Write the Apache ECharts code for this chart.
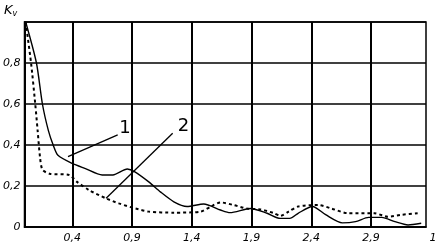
<!DOCTYPE html>
<html><head><meta charset="utf-8">
<script src="https://cdn.jsdelivr.net/npm/echarts@6/dist/echarts.min.js"></script>
<style>html,body{margin:0;padding:0;background:#fff}#c{width:440px;height:248px}</style>
</head><body><div id="c"></div>
<script>
// Curve 1 (solid)
const x1 = [0.01,0.1,0.15,0.2,0.24,0.28,0.4,0.51,0.65,0.74,0.86,0.92,1.04,1.14,1.25,1.36,1.5,1.64,1.72,1.89,2.03,2.14,2.22,2.29,2.41,2.52,2.66,2.77,2.88,2.99,3.1,3.21,3.32];
const y1 = [1.0,0.8,0.6,0.47,0.4,0.35,0.31,0.285,0.254,0.254,0.283,0.27,0.22,0.17,0.123,0.1,0.112,0.083,0.07,0.09,0.067,0.042,0.042,0.067,0.1,0.06,0.02,0.026,0.047,0.047,0.026,0.01,0.018];
// Curve 2 (dotted)
const x2 = [0.01,0.055,0.09,0.11,0.13,0.15,0.21,0.375,0.44,0.54,0.68,0.79,0.93,1.04,1.25,1.475,1.56,1.64,1.75,1.86,1.975,2.09,2.14,2.21,2.29,2.46,2.57,2.71,2.82,2.93,3.04,3.16,3.29];
const y2 = [1.0,0.8,0.6,0.47,0.34,0.28,0.26,0.254,0.22,0.18,0.14,0.115,0.09,0.075,0.07,0.075,0.1,0.12,0.107,0.09,0.086,0.067,0.054,0.075,0.1,0.107,0.09,0.067,0.067,0.067,0.05,0.06,0.067];
// Axis ticks
const xTicks = [0.4,0.9,1.4,1.9,2.4,2.9,3.36];
const xTickLabels = ['0,4','0,9','1,4','1,9','2,4','2,9','1'];
const xMax = 3.36;
const yTicks = [0,0.2,0.4,0.6,0.8,1.0];
const yTickLabels = ['0','0,2','0,4','0,6','0,8',''];
// Annotations (data coords)
const ann1 = {from:[0.364,0.343], to:[0.78,0.449], text:'1', at:[0.84,0.48]};
const ann2 = {from:[0.683,0.14], to:[1.24,0.457], text:'2', at:[1.33,0.49]};

const chart = echarts.init(document.getElementById('c'));
const font = "'DejaVu Sans', sans-serif";
const labelStyle = {color:'#000', fontStyle:'italic', fontSize:11, fontFamily:font};
chart.setOption({
  animation:false,
  grid:{left:23, right:14, top:22, bottom:21, show:true, borderColor:'#000', borderWidth:1.5},
  xAxis:{type:'value', min:0, max:xMax,
    axisLine:{show:true, lineStyle:{color:'#000', width:1.5}},
    axisTick:{show:false, customValues:xTicks.slice(0,6)},
    axisLabel:Object.assign({customValues:xTicks, margin:6,
      rich:{r:{fontStyle:'italic', fontSize:11, fontFamily:font, color:'#000', padding:[0,0,0,14]}},
      formatter:(v)=>{const i=xTicks.findIndex(t=>Math.abs(t-v)<1e-6);
        if(i<0) return ''; return i===xTicks.length-1 ? '{r|'+xTickLabels[i]+'}' : xTickLabels[i];}}, labelStyle),
    splitLine:{show:true, lineStyle:{color:'#000', width:2}}
  },
  yAxis:{type:'value', min:0, max:1, interval:0.2,
    axisLine:{show:true, lineStyle:{color:'#000', width:2}},
    axisTick:{show:false},
    axisLabel:Object.assign({margin:4,
      formatter:(v)=>{const i=yTicks.findIndex(t=>Math.abs(t-v)<1e-6);return i>=0?yTickLabels[i]:'';}}, labelStyle),
    splitLine:{show:true, lineStyle:{color:'#000', width:1.5}}
  },
  series:[
    {type:'line', data:x1.map((x,i)=>[x,y1[i]]), smooth:0.25, symbol:'none',
      lineStyle:{color:'#000', width:1.4}},
    {type:'line', data:x2.map((x,i)=>[x,y2[i]]), smooth:0.25, symbol:'none',
      lineStyle:{color:'#000', width:2, type:[3,3]}}
  ]
});
function px(p){return chart.convertToPixel({gridIndex:0}, p);}
const g = [];
[ann1, ann2].forEach(a=>{
  const f=px(a.from), t=px(a.to), at=px(a.at);
  g.push({type:'line', shape:{x1:f[0],y1:f[1],x2:t[0],y2:t[1]}, style:{stroke:'#000', lineWidth:1.3}});
  g.push({type:'text', x:at[0], y:at[1], style:{text:a.text, fill:'#000', font:"18px 'DejaVu Sans', sans-serif", align:'center', verticalAlign:'middle'}});
});
g.push({type:'text', x:4, y:4, style:{rich:{k:{fontStyle:'italic', fontSize:13, fontFamily:font, fill:'#000'}, s:{fontStyle:'italic', fontSize:8, fontFamily:font, fill:'#000', padding:[6,0,0,0]}}, text:'{k|K}{s|v}'}});
chart.setOption({graphic:g});
</script></body></html>
